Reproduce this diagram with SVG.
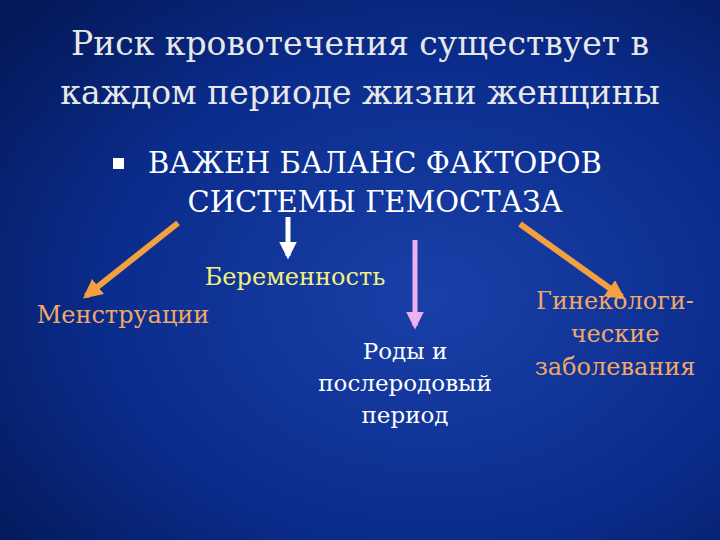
<svg xmlns="http://www.w3.org/2000/svg" width="720" height="540" viewBox="0 0 720 540">
<defs>
<radialGradient id="bg" cx="0.6" cy="0.55" r="0.75">
<stop offset="0" stop-color="#1a40a8"/>
<stop offset="0.6" stop-color="#0a2c8c"/>
<stop offset="1" stop-color="#041a5c"/>
</radialGradient>
<marker id="ao" viewBox="0 0 10 10" refX="8" refY="5" markerWidth="3.2" markerHeight="3.2" orient="auto"><path d="M0,0 L10,5 L0,10 z" fill="#f4a040"/></marker>
<marker id="aw" viewBox="0 0 10 10" refX="8" refY="5" markerWidth="3.5" markerHeight="3.5" orient="auto"><path d="M0,0 L10,5 L0,10 z" fill="#ffffff"/></marker>
<marker id="ap" viewBox="0 0 10 10" refX="8" refY="5" markerWidth="3.5" markerHeight="3.5" orient="auto"><path d="M0,0 L10,5 L0,10 z" fill="#f0b0f0"/></marker>
<style>
text{font-family:"DejaVu Serif","Liberation Serif",serif;}
.t{fill:#e8e8e8;font-size:33px;text-anchor:middle}
.h{fill:#ffffff;font-size:29px;text-anchor:middle}
.o{fill:#f0a868;font-size:24px;text-anchor:middle}
.y{fill:#f0f080;font-size:24px;text-anchor:middle}
.w{fill:#ffffff;font-size:23px;text-anchor:middle}
</style>
</defs>
<rect width="720" height="540" fill="url(#bg)"/>
<g id="title"><text class="t" x="360" y="55">Риск кровотечения существует в</text><text class="t" x="360" y="104">каждом периоде жизни женщины</text></g>
<g id="main"><rect x="113" y="158" width="11" height="11" fill="#ffffff"/><text class="h" x="375" y="173">ВАЖЕН БАЛАНС ФАКТОРОВ</text><text class="h" x="375" y="212">СИСТЕМЫ ГЕМОСТАЗА</text></g>
<g id="connectors">
<line x1="178" y1="223" x2="86" y2="296" stroke="#f4a040" stroke-width="6" marker-end="url(#ao)"/>
<line x1="288" y1="217" x2="288" y2="256" stroke="#ffffff" stroke-width="5" marker-end="url(#aw)"/>
<line x1="415" y1="240" x2="415" y2="326" stroke="#f0b0f0" stroke-width="5" marker-end="url(#ap)"/>
<line x1="520" y1="224" x2="622" y2="297" stroke="#f4a040" stroke-width="6" marker-end="url(#ao)"/>
</g>
<g id="n1"><text class="o" x="123" y="323">Менструации</text></g>
<g id="n2"><text class="y" x="295" y="285">Беременность</text></g>
<g id="n3"><text class="w" x="405" y="359">Роды и</text><text class="w" x="405" y="391">послеродовый</text><text class="w" x="405" y="423">период</text></g>
<g id="n4"><text class="o" x="615" y="309">Гинекологи-</text><text class="o" x="615" y="342">ческие</text><text class="o" x="615" y="375">заболевания</text></g>
</svg>
